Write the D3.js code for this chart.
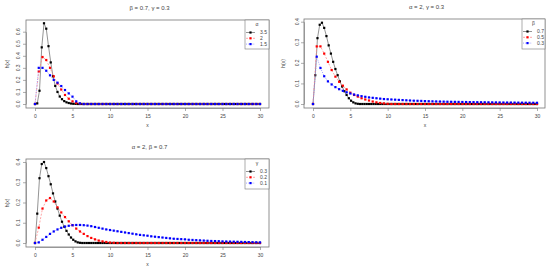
<!DOCTYPE html>
<html>
<head>
<meta charset="utf-8">
<script src="https://cdn.jsdelivr.net/npm/d3@7"></script>
<style>
  body { margin: 0; background: #fff; }
  svg text { font-family: "Liberation Sans", Arial, sans-serif; fill: #444; }
</style>
</head>
<body>
<svg id="chart" width="550" height="274"></svg>
<script>
// x grids: black series sampled every 0.3, red/blue every 0.5
const fineStep = 0.3
const coarseStep = 0.5
const xTicks = [0, 5, 10, 15, 20, 25, 30]

// panel 1: beta = 0.7, gamma = 0.3, alpha varies
const alphaLabels = ['3.5', '2', '1.5']
const p1Black = [
  0, 0.005, 0.11, 0.47, 0.67, 0.625, 0.48, 0.345, 0.23, 0.15,
  0.10, 0.062, 0.04, 0.024, 0.014, 0.008, 0.004, 0.002, 0.001, 0,
  0, 0, 0, 0, 0, 0, 0, 0, 0, 0,
  0, 0, 0, 0, 0, 0, 0, 0, 0, 0,
  0, 0, 0, 0, 0, 0, 0, 0, 0, 0,
  0, 0, 0, 0, 0, 0, 0, 0, 0, 0,
  0, 0, 0, 0, 0, 0, 0, 0, 0, 0,
  0, 0, 0, 0, 0, 0, 0, 0, 0, 0,
  0, 0, 0, 0, 0, 0, 0, 0, 0, 0,
  0, 0, 0, 0, 0, 0, 0, 0, 0, 0,
  0
]
const p1Red = [
  0, 0.27, 0.39, 0.365, 0.30, 0.23, 0.17, 0.12, 0.075, 0.044,
  0.022, 0.008, 0.002, 0, 0, 0, 0, 0, 0, 0,
  0, 0, 0, 0, 0, 0, 0, 0, 0, 0,
  0, 0, 0, 0, 0, 0, 0, 0, 0, 0,
  0, 0, 0, 0, 0, 0, 0, 0, 0, 0,
  0, 0, 0, 0, 0, 0, 0, 0, 0, 0,
  0
]
const p1Blue = [
  0, 0.30, 0.30, 0.276, 0.238, 0.20, 0.177, 0.149, 0.116, 0.088,
  0.061, 0.022, 0.005, 0, 0, 0, 0, 0, 0, 0,
  0, 0, 0, 0, 0, 0, 0, 0, 0, 0,
  0, 0, 0, 0, 0, 0, 0, 0, 0, 0,
  0, 0, 0, 0, 0, 0, 0, 0, 0, 0,
  0, 0, 0, 0, 0, 0, 0, 0, 0, 0,
  0
]
const p1YTicks = [0, 0.1, 0.2, 0.3, 0.4, 0.5, 0.6]

// panel 2: alpha = 2, gamma = 0.3, beta varies
const betaLabels = ['0.7', '0.5', '0.3']
const p2Black = [
  0, 0.14, 0.32, 0.385, 0.395, 0.37, 0.33, 0.285, 0.245, 0.205,
  0.17, 0.14, 0.11, 0.085, 0.062, 0.044, 0.028, 0.016, 0.008, 0.003,
  0.001, 0, 0, 0, 0, 0, 0, 0, 0, 0,
  0, 0, 0, 0, 0, 0, 0, 0, 0, 0,
  0, 0, 0, 0, 0, 0, 0, 0, 0, 0,
  0, 0, 0, 0, 0, 0, 0, 0, 0, 0,
  0, 0, 0, 0, 0, 0, 0, 0, 0, 0,
  0, 0, 0, 0, 0, 0, 0, 0, 0, 0,
  0, 0, 0, 0, 0, 0, 0, 0, 0, 0,
  0, 0, 0, 0, 0, 0, 0, 0, 0, 0,
  0
]
const p2Red = [
  0, 0.28, 0.28, 0.245, 0.205, 0.165, 0.133, 0.108, 0.089, 0.071,
  0.055, 0.044, 0.036, 0.028, 0.022, 0.017, 0.012, 0.008, 0.005, 0.003,
  0.001, 0, 0, 0, 0, 0, 0, 0, 0, 0,
  0, 0, 0, 0, 0, 0, 0, 0, 0, 0,
  0, 0, 0, 0, 0, 0, 0, 0, 0, 0,
  0, 0, 0, 0, 0, 0, 0, 0, 0, 0,
  0
]
const p2Blue = [
  0, 0.23, 0.175, 0.135, 0.11, 0.095, 0.082, 0.072, 0.064, 0.057,
  0.051, 0.046, 0.042, 0.038, 0.035, 0.032, 0.030, 0.028, 0.026, 0.024,
  0.023, 0.022, 0.021, 0.020, 0.019, 0.018, 0.017, 0.016, 0.0155, 0.015,
  0.014, 0.0135, 0.013, 0.0125, 0.012, 0.0115, 0.011, 0.0107, 0.0104, 0.0101,
  0.0098, 0.0095, 0.0092, 0.009, 0.0087, 0.0085, 0.0083, 0.0081, 0.0079, 0.0077,
  0.0075, 0.0073, 0.0071, 0.007, 0.0068, 0.0066, 0.0065, 0.0063, 0.0062, 0.006,
  0.0059
]
const p2YTicks = [0, 0.1, 0.2, 0.3, 0.4]

// panel 3: alpha = 2, beta = 0.7, gamma varies
const gammaLabels = ['0.3', '0.2', '0.1']
const p3Black = [
  0, 0.145, 0.32, 0.39, 0.40, 0.37, 0.33, 0.29, 0.245, 0.205,
  0.17, 0.135, 0.105, 0.08, 0.06, 0.042, 0.027, 0.016, 0.008, 0.003,
  0.001, 0, 0, 0, 0, 0, 0, 0, 0, 0,
  0, 0, 0, 0, 0, 0, 0, 0, 0, 0,
  0, 0, 0, 0, 0, 0, 0, 0, 0, 0,
  0, 0, 0, 0, 0, 0, 0, 0, 0, 0,
  0, 0, 0, 0, 0, 0, 0, 0, 0, 0,
  0, 0, 0, 0, 0, 0, 0, 0, 0, 0,
  0, 0, 0, 0, 0, 0, 0, 0, 0, 0,
  0, 0, 0, 0, 0, 0, 0, 0, 0, 0,
  0
]
const p3Red = [
  0, 0.076, 0.17, 0.21, 0.222, 0.205, 0.176, 0.151, 0.128, 0.107,
  0.088, 0.071, 0.057, 0.045, 0.034, 0.025, 0.018, 0.012, 0.008, 0.005,
  0.002, 0.001, 0, 0, 0, 0, 0, 0, 0, 0,
  0, 0, 0, 0, 0, 0, 0, 0, 0, 0,
  0, 0, 0, 0, 0, 0, 0, 0, 0, 0,
  0, 0, 0, 0, 0, 0, 0, 0, 0, 0,
  0
]
const p3Blue = [
  0, 0.003, 0.016, 0.03, 0.045, 0.057, 0.067, 0.075, 0.081, 0.085,
  0.088, 0.089, 0.089, 0.088, 0.086, 0.083, 0.079, 0.075, 0.071, 0.067,
  0.064, 0.061, 0.058, 0.055, 0.052, 0.049, 0.046, 0.043, 0.040, 0.038,
  0.036, 0.033, 0.031, 0.029, 0.027, 0.025, 0.023, 0.021, 0.020, 0.019,
  0.018, 0.016, 0.015, 0.014, 0.013, 0.012, 0.011, 0.010, 0.0095, 0.009,
  0.008, 0.0075, 0.007, 0.0065, 0.006, 0.0055, 0.005, 0.0045, 0.004, 0.0035,
  0.003
]
const p3YTicks = [0, 0.1, 0.2, 0.3, 0.4]

const colors = ['#000000', '#ff0000', '#0000ff']
const lineColors = ['#666666', '#ff8080', '#8080ff']
const dashes = [null, '2,1.5', '1,1.2']

const svg = d3.select('#chart')

const panels = [
  {title: 'β = 0.7, γ = 0.3', legendTitle: 'α', labels: alphaLabels,
   series: [[p1Black, fineStep], [p1Red, coarseStep], [p1Blue, coarseStep]],
   yTicks: p1YTicks, yMax: 0.6, xr: [35, 260], yr: [104, 31.7],
   box: [26, 20, 269, 108], yLab: 7, tickLab: 18, legend: [245, 269, 20, 49]},
  {title: 'α = 2, γ = 0.3', legendTitle: 'β', labels: betaLabels,
   series: [[p2Black, fineStep], [p2Red, coarseStep], [p2Blue, coarseStep]],
   yTicks: p2YTicks, yMax: 0.4, xr: [313, 537], yr: [104, 21.7],
   box: [304, 19, 545, 108], yLab: 283, tickLab: 297, legend: [522, 545, 19, 49]},
  {title: 'α = 2, β = 0.7', legendTitle: 'γ', labels: gammaLabels,
   series: [[p3Black, fineStep], [p3Red, coarseStep], [p3Blue, coarseStep]],
   yTicks: p3YTicks, yMax: 0.4, xr: [35, 260], yr: [243, 162],
   box: [26, 159, 269, 247], yLab: 7, tickLab: 18, legend: [245, 269, 159, 189]}
]

function drawPanel(p) {
  const g = svg.append('g')
  const x = d3.scaleLinear().domain([0, 30]).range(p.xr)
  const y = d3.scaleLinear().domain([0, p.yMax]).range(p.yr)
  const [bx0, by0, bx1, by1] = p.box

  // x axis
  const xa = g.append('g')
    .attr('transform', `translate(0,${by1})`)
    .call(d3.axisBottom(x).tickValues(xTicks).tickSize(3).tickSizeOuter(0).tickPadding(3))
  xa.selectAll('path, line').attr('stroke', '#777').attr('stroke-width', 0.6)
  xa.selectAll('text').attr('font-size', 5).style('fill', '#444')
    .style('font-family', '"Liberation Sans", Arial, sans-serif')

  // y axis, labels parallel to axis like R
  const ya = g.append('g')
    .attr('transform', `translate(${bx0},0)`)
    .call(d3.axisLeft(y).tickValues(p.yTicks).tickSize(3).tickSizeOuter(0).tickFormat(d3.format('.1f')))
  ya.selectAll('path, line').attr('stroke', '#777').attr('stroke-width', 0.6)
  ya.selectAll('text').remove()
  p.yTicks.forEach(t => {
    g.append('text')
      .attr('transform', `translate(${p.tickLab},${y(t)}) rotate(-90)`)
      .attr('text-anchor', 'middle').attr('dy', '0.35em')
      .attr('font-size', 5).text(d3.format('.1f')(t))
  })

  // box
  g.append('rect').attr('x', bx0).attr('y', by0)
    .attr('width', bx1 - bx0).attr('height', by1 - by0)
    .attr('fill', 'none').attr('stroke', '#777').attr('stroke-width', 0.8)

  // titles
  g.append('text').attr('x', (bx0 + bx1) / 2 + 2).attr('y', by0 - 10.5)
    .attr('text-anchor', 'middle').attr('font-size', 6).text(p.title)
  g.append('text').attr('x', (p.xr[0] + p.xr[1]) / 2).attr('y', by1 + 19)
    .attr('text-anchor', 'middle').attr('font-size', 5).text('x')
  g.append('text')
    .attr('transform', `translate(${p.yLab},${(by0 + by1) / 2}) rotate(-90)`)
    .attr('text-anchor', 'middle').attr('dy', '0.35em')
    .attr('font-size', 5).text('h(x)')

  // series
  p.series.forEach(([vals, step], i) => {
    const pts = vals.map((v, k) => [k * step, v])
    const line = d3.line().x(d => x(d[0])).y(d => y(d[1]))
    g.append('path').datum(pts)
      .attr('d', line).attr('fill', 'none')
      .attr('stroke', lineColors[i]).attr('stroke-width', 0.7)
      .attr('stroke-dasharray', dashes[i])
    g.append('g').selectAll('rect').data(pts).join('rect')
      .attr('x', d => x(d[0]) - 1.1).attr('y', d => y(d[1]) - 1.1)
      .attr('width', 2.2).attr('height', 2.2)
      .attr('fill', colors[i])
  })

  // legend
  const [lx0, lx1, ly0, ly1] = p.legend
  g.append('rect').attr('x', lx0).attr('y', ly0)
    .attr('width', lx1 - lx0).attr('height', ly1 - ly0)
    .attr('fill', 'white').attr('stroke', '#777').attr('stroke-width', 0.6)
  g.append('text').attr('x', (lx0 + lx1) / 2).attr('y', ly0 + 6)
    .attr('text-anchor', 'middle').attr('font-size', 5).text(p.legendTitle)
  p.labels.forEach((lab, i) => {
    const ly = ly0 + 12.5 + i * 5.8
    g.append('line').attr('x1', lx0 + 1).attr('x2', lx0 + 10)
      .attr('y1', ly).attr('y2', ly)
      .attr('stroke', lineColors[i]).attr('stroke-width', 0.7)
      .attr('stroke-dasharray', dashes[i])
    g.append('rect').attr('x', lx0 + 5.5 - 1.1).attr('y', ly - 1.1)
      .attr('width', 2.2).attr('height', 2.2).attr('fill', colors[i])
    g.append('text').attr('x', lx0 + 15).attr('y', ly).attr('dy', '0.35em')
      .attr('font-size', 5).text(lab)
  })
}

panels.forEach(drawPanel)
</script>
</body>
</html>
